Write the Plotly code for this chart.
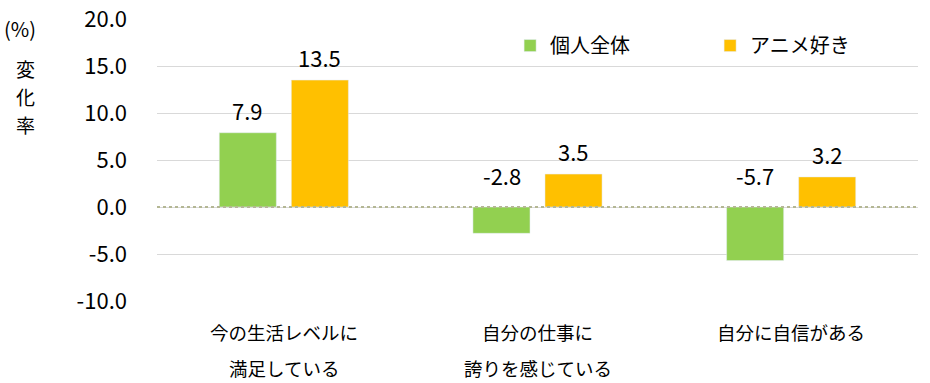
import plotly.graph_objects as go

categories = ["今の生活レベルに満足している", "自分の仕事に誇りを感じている", "自分に自信がある"]
label_line1 = ["今の生活レベルに", "自分の仕事に", "自分に自信がある"]
label_line2 = ["満足している", "誇りを感じている", ""]
series_names = ["個人全体", "アニメ好き"]
all_people = [7.9, -2.8, -5.7]
anime_fans = [13.5, 3.5, 3.2]
tick_vals = [-10, -5, 0, 5, 10, 15, 20]
tick_text = ["-10.0", "-5.0", "0.0", "5.0", "10.0", "15.0", "20.0"]
axis_title_chars = ["変", "化", "率"]

GREEN = "#92d050"
ORANGE = "#ffc000"
FONT = "Noto Sans CJK JP"

fig = go.Figure()
fig.add_trace(go.Bar(x=categories, y=all_people, name=series_names[0], marker_color=GREEN))
fig.add_trace(go.Bar(x=categories, y=anime_fans, name=series_names[1], marker_color=ORANGE))

ANN = dict(showarrow=False, xanchor="center", yanchor="middle")

# value labels
for trace_idx, vals in enumerate([all_people, anime_fans]):
    for ci, v in enumerate(vals):
        if v >= 0:
            y, ys = v, 23
        else:
            y, ys = 0, 32
        fig.add_annotation(
            x=categories[ci], y=y, xref="x", yref="y", text=f"{v:.1f}",
            yshift=ys, xshift=(-36 if trace_idx == 0 else 36),
            font=dict(size=22, color="#000000", family=FONT), **ANN,
        )

# category labels (two lines)
for ci, cat in enumerate(categories):
    fig.add_annotation(x=cat, y=0, xref="x", yref="paper", text=label_line1[ci],
                       yshift=-31, font=dict(size=18.5, color="#000", family=FONT), **ANN)
    if label_line2[ci]:
        fig.add_annotation(x=cat, y=0, xref="x", yref="paper", text=label_line2[ci],
                           yshift=-67, font=dict(size=18.5, color="#000", family=FONT), **ANN)

# axis title
fig.add_annotation(x=0, y=1, xref="paper", yref="paper", text="(%)",
                   xshift=-137.5, yshift=-9.5, font=dict(size=20, color="#000", family=FONT), **ANN)
for i, ch in enumerate(axis_title_chars):
    fig.add_annotation(x=0, y=1, xref="paper", yref="paper", text=ch,
                       xshift=-132, yshift=-49.5 - 28 * i,
                       font=dict(size=19, color="#000", family=FONT), **ANN)

# dotted zero line
fig.add_shape(type="line", xref="paper", yref="y", x0=0, x1=1, y0=0, y1=0,
              line=dict(color="#b4b794", width=2, dash="dot"))

fig.update_layout(
    width=930, height=383,
    margin=dict(l=157, r=12, t=18.5, b=82, autoexpand=False),
    paper_bgcolor="white", plot_bgcolor="white",
    barmode="group", bargap=0.432, bargroupgap=0.208,
    font=dict(family=FONT, size=16, color="#000"),
    showlegend=True,
    legend=dict(orientation="h", x=0.464, y=0.975, xanchor="left", yanchor="top",
                font=dict(size=20, family=FONT), entrywidth=155, entrywidthmode="pixels",
                bgcolor="rgba(0,0,0,0)"),
    xaxis=dict(showticklabels=False, showline=False, ticks=""),
    yaxis=dict(range=[-10, 20], tickvals=tick_vals, ticktext=tick_text, showgrid=True,
               gridcolor="#d9d9d9", gridwidth=1, zeroline=False, showline=False,
               ticks="", ticklabelstandoff=29, ticklabeloverflow="allow",
               tickfont=dict(size=22, family=FONT, color="#000")),
)

fig.write_html("out.html", config={"displayModeBar": False},
               post_script="document.body.style.margin='0';")
